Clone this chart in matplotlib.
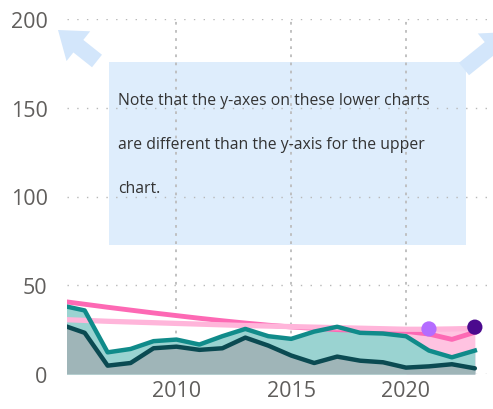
import matplotlib
matplotlib.use("Agg")
import matplotlib.pyplot as plt
from matplotlib.patches import FancyArrow, Rectangle

plt.rcParams['font.family'] = ['Open Sans', 'DejaVu Sans']

years = list(range(2005, 2024))
# dark teal series
dark = [27.7, 23.2, 4.7, 6.2, 14.5, 15.4, 13.6, 14.5, 20.5, 16.0,
        10.4, 6.2, 9.8, 7.5, 6.6, 3.6, 4.3, 5.5, 3.2]
# teal series
teal = [38.6, 35.8, 12.2, 14.1, 18.5, 19.4, 16.6, 21.3, 25.4, 21.3,
        19.8, 23.9, 26.6, 23.2, 22.8, 21.3, 13.2, 9.4, 13.2]
# pink series
pink = [41.0, 39.3, 37.6, 36.0, 34.4, 32.9, 31.4, 30.0, 28.7, 27.5,
        26.5, 25.7, 25.0, 24.5, 24.2, 24.0, 22.5, 19.5, 23.5]
# light pink target
light_pink = [30.7, 30.2, 29.7, 29.3, 28.9, 28.5, 28.1, 27.7, 27.3, 27.0,
              26.7, 26.4, 26.1, 25.8, 25.5, 25.2, 25.2, 25.4, 25.7]
pink_fill_years = [2020, 2021, 2022, 2023]
pink_fill_vals = [25.2, 25.2, 25.4, 25.7]
dot_years = [2021, 2023]
dot_vals = [25.4, 26.4]
dot_colors = ["#b46cff", "#4b0a8e"]

yticks = [0, 50, 100, 150, 200]
xticks = [2010, 2015, 2020]
note = ("Note that the y-axes on these lower charts\n"
        "are different than the y-axis for the upper\n"
        "chart.")

fig = plt.figure(figsize=(4.93, 4.10), dpi=100)
W, H = 493, 410

# background layer: note box and arrows, in figure pixels
bg = fig.add_axes([0, 0, 1, 1], zorder=0)
bg.set_xlim(0, W)
bg.set_ylim(H, 0)
bg.axis("off")
bg.add_patch(Rectangle((109, 63), 466 - 109, 246 - 63, color="#deedfc", lw=0))
for (x0, y0, x1, y1) in [(97, 62, 58, 31), (464, 70, 510, 33)]:
    bg.add_patch(FancyArrow(x0, y0, x1 - x0, y1 - y0, width=16,
                            head_width=38, head_length=26,
                            length_includes_head=True, color="#d3e6fb", lw=0))

ax = fig.add_axes([67 / W, (H - 375) / H, (490 - 67) / W, (375 - 20) / H], zorder=1)
ax.patch.set_alpha(0)
ax.fill_between(pink_fill_years, 0, pink_fill_vals, color="#ffc3e1", lw=0, zorder=1)
ax.fill_between(years, 0, teal, color="#9ad3d1", lw=0, zorder=2)
ax.fill_between(years, 0, dark, color="#9fb5b8", lw=0, zorder=3)
ax.plot(years, dark, color="#0b4a52", lw=3.2, zorder=4, solid_capstyle="round")
ax.plot(years, pink, color="#fd69b4", lw=3.5, zorder=5)
ax.plot(years, light_pink, color="#ffb5da", lw=3.8, zorder=6)
ax.plot(years, teal, color="#108b8a", lw=3.2, zorder=7)
ax.scatter(dot_years, dot_vals, s=120, c=dot_colors, zorder=8, linewidths=0)

ax.set_xlim(2005.23, 2023.66)
ax.set_ylim(0, 200)
ax.set_yticks(yticks)
ax.set_xticks(xticks)
ax.tick_params(length=0, labelsize=15.5, labelcolor="#605e5c", pad=4)
ax.tick_params(axis="y", pad=14)
for s in ax.spines.values():
    s.set_visible(False)
ax.set_axisbelow(True)
ax.grid(axis="y", color="#b8b8b8", lw=1, linestyle=(0, (1, 6)))
ax.grid(axis="x", color="#bcbcbc", lw=1.3, linestyle=(0, (1.5, 3)))

fig.text(118 / W, (H - 93) / H, note, fontsize=11.3, color="#333333",
         va="top", ha="left", linespacing=3.35, zorder=5)

fig.savefig("out.png", dpi=100)
